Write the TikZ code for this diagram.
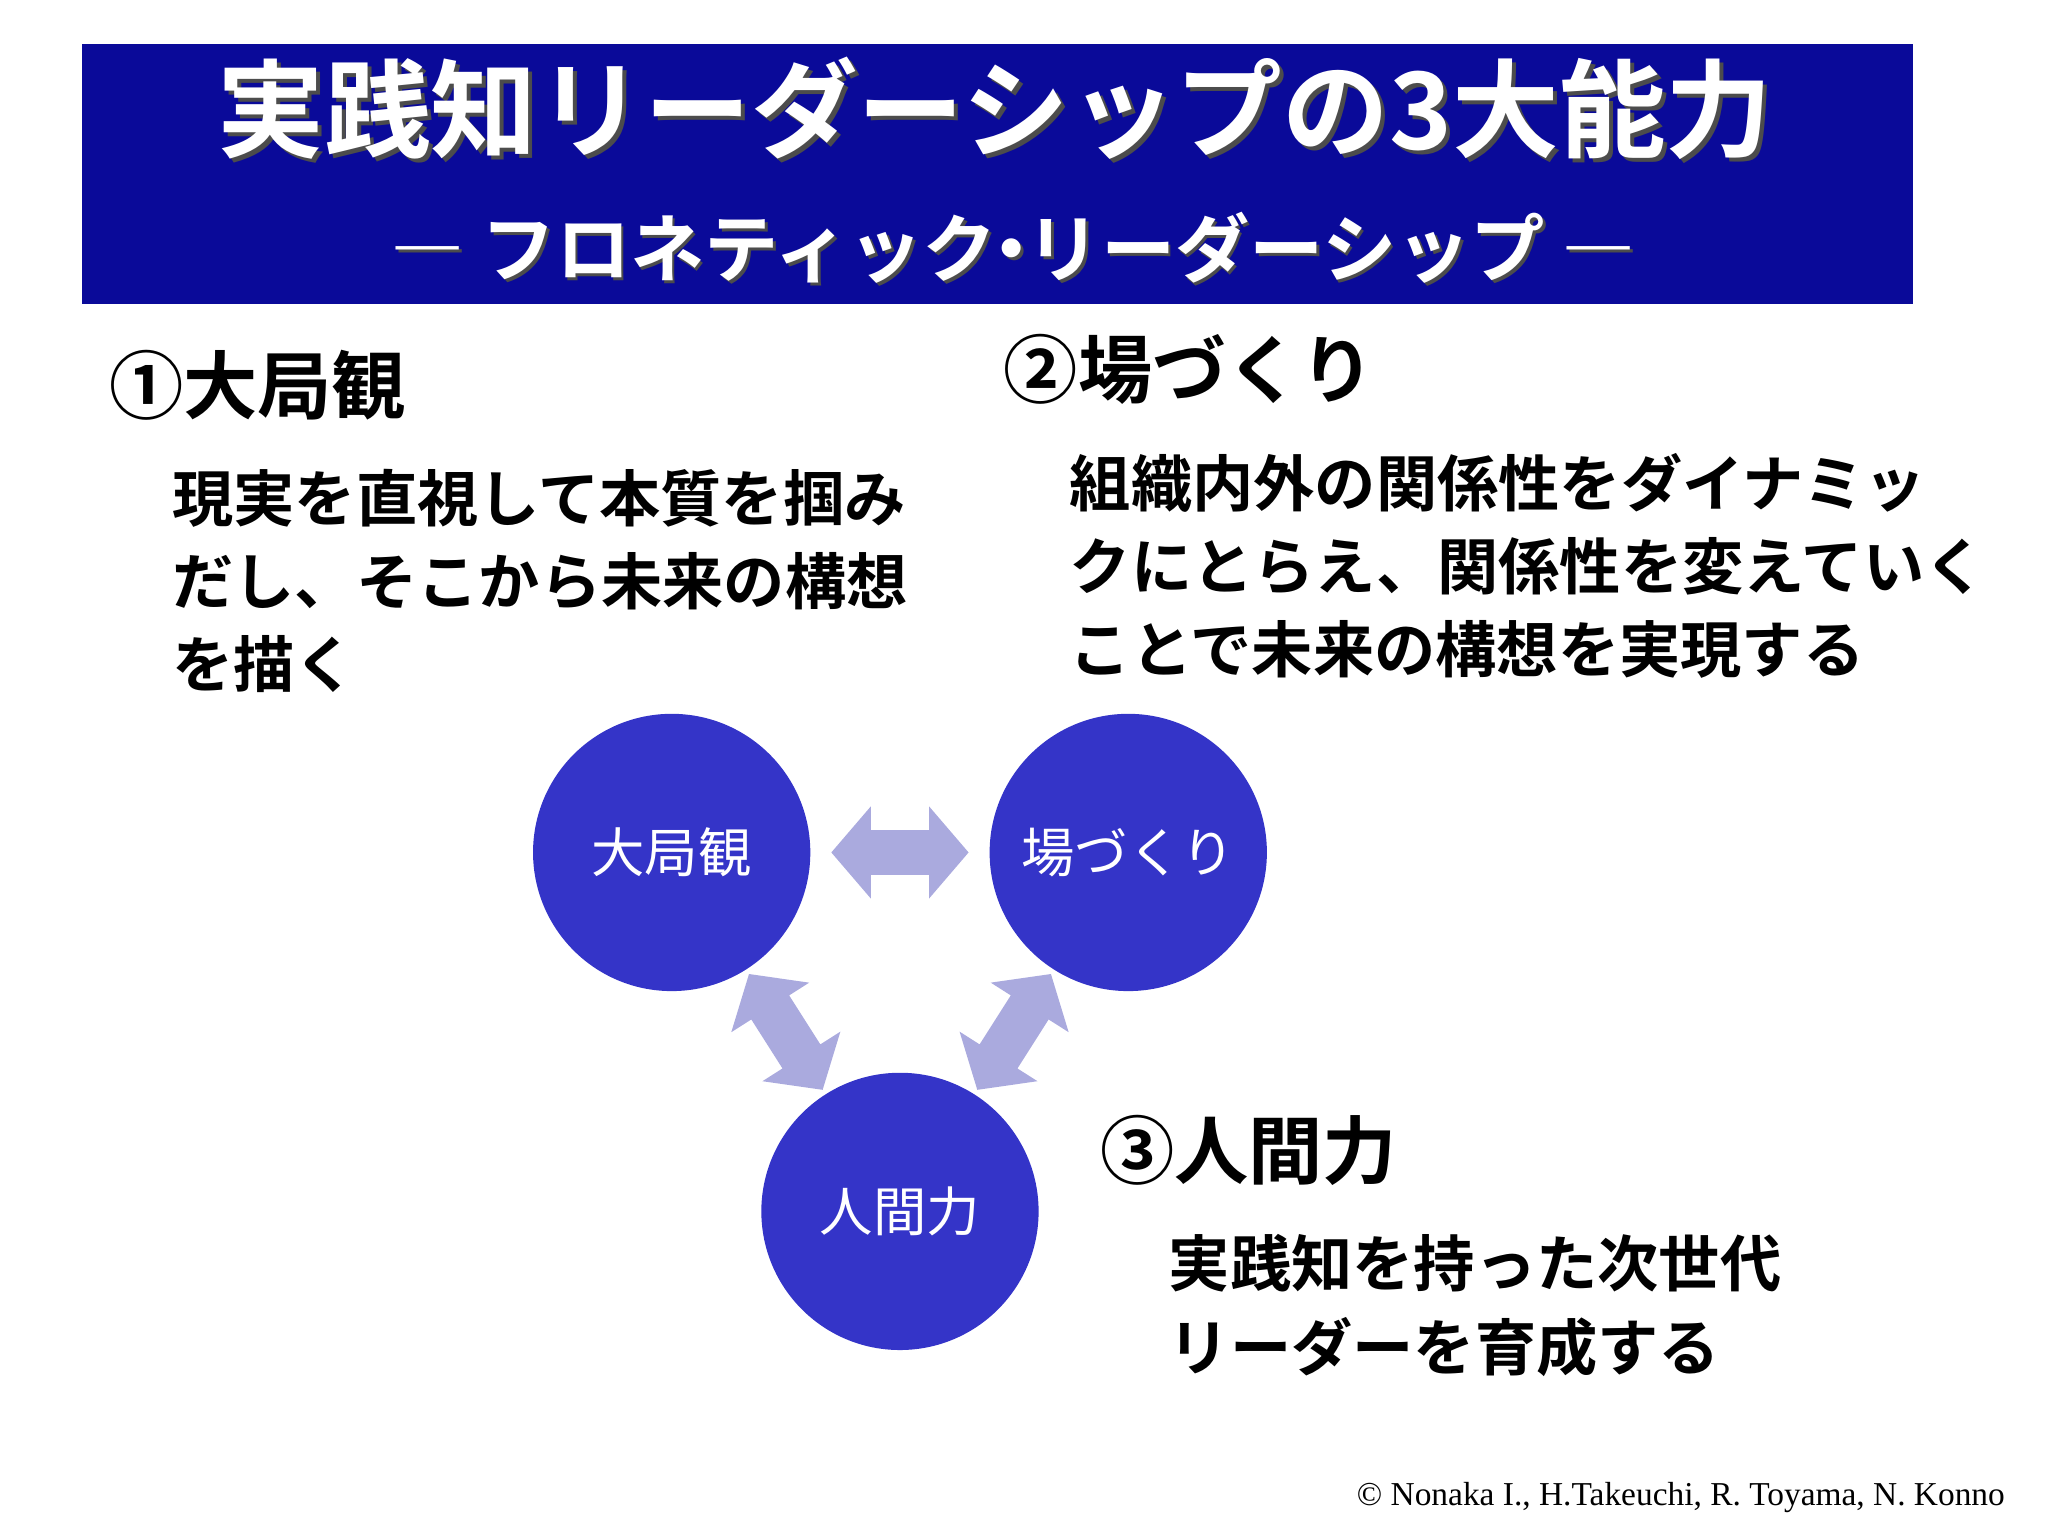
\documentclass[tikz,border=0pt]{standalone}
\usepackage{fontspec}
\setmainfont{Noto Sans CJK JP}[BoldFont={Noto Sans CJK JP Bold}]
\newfontfamily\copyfont{Liberation Serif}
\definecolor{navy}{HTML}{0A0A99}
\definecolor{circ}{HTML}{3434C8}
\definecolor{arr}{HTML}{AAAADE}
\begin{document}
\begin{tikzpicture}[x=0.01cm,y=-0.01cm,
  circnode/.style={circle,fill=circ,minimum size=2.1cm,inner sep=0pt,text=white,font=\fontsize{11.5}{14}\selectfont},
  head/.style={anchor=west,inner sep=0pt,font=\bfseries\fontsize{16}{20}\selectfont},
  body/.style={anchor=north west,inner sep=0pt,align=left,font=\bfseries\fontsize{13.2}{17.9}\selectfont},
  dblarrow/.pic={\fill[arr] (-52,0)--(-22,35)--(-22,17)--(22,17)--(22,35)--(52,0)--(22,-35)--(22,-17)--(-22,-17)--(-22,-35)--cycle;}]
\useasboundingbox (0,0) rectangle (1552,1164);
\fill[navy] (62,33) rectangle (1450,230);
\node[text=black!70,font=\bfseries\fontsize{23}{28}\selectfont] at (757,85) {実践知リーダーシップの3大能力};
\node[text=white,font=\bfseries\fontsize{23}{28}\selectfont] (title) at (754,82) {実践知リーダーシップの3大能力};
\node[text=black!70,font=\bfseries\fontsize{16}{20}\selectfont] at (770,190) {― フロネティック{\kern-0.3em}・{\kern-0.3em}リーダーシップ ―};
\node[text=white,font=\bfseries\fontsize{16}{20}\selectfont] (sub) at (768,188) {― フロネティック{\kern-0.3em}・{\kern-0.3em}リーダーシップ ―};

\node[head] (h1) at (82,292) {①大局観};
\node[body] (b1) at (130,355) {現実を直視して本質を掴み\\だし、そこから未来の構想\\を描く};
\node[head] (h2) at (760,280) {②場づくり};
\node[body] (b2) at (810,343) {組織内外の関係性をダイナミッ\\クにとらえ、関係性を変えていく\\ことで未来の構想を実現する};
\node[head] (h3) at (833,872) {③人間力};
\node[body] (b3) at (885,935) {実践知を持った次世代\\リーダーを育成する};

\node[circnode] (c1) at (509,646) {大局観};
\node[circnode] (c2) at (855,646) {場づくり};
\node[circnode] (c3) at (682,918) {人間力};
\path (c1.center) -- (c2.center) pic[pos=0.5,sloped]{dblarrow};
\path (c1.center) -- (c3.center) pic[pos=0.5,sloped]{dblarrow};
\path (c2.center) -- (c3.center) pic[pos=0.5,sloped]{dblarrow};

\node[anchor=east,inner sep=0pt,font=\copyfont\fontsize{7.2}{9}\selectfont] (copy) at (1520,1135) {© Nonaka I., H.Takeuchi, R. Toyama, N. Konno};
\end{tikzpicture}
\end{document}
